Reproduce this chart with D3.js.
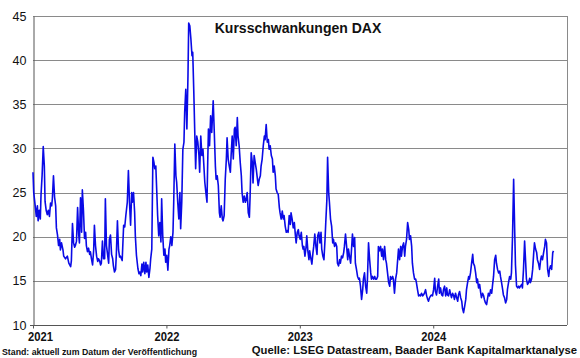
<!DOCTYPE html>
<html>
<head>
<meta charset="utf-8">
<script src="https://cdn.jsdelivr.net/npm/d3@7"></script>
<style>
  html, body { margin: 0; padding: 0; background: #fff; }
  svg { display: block; font-family: "Liberation Sans", Arial, sans-serif; }
</style>
</head>
<body>
<svg id="chart" width="580" height="358"></svg>
<script>
// ---- data ----
const title = "Kursschwankungen DAX";
const yTicks = [10, 15, 20, 25, 30, 35, 40, 45];
const xTickLabels = ["2021", "2022", "2023", "2024"];
const footLeft = "Stand: aktuell zum Datum der Veröffentlichung";
const footRight = "Quelle: LSEG Datastream, Baader Bank Kapitalmarktanalyse";

const vol2021 = [["2021-01-01",27.3],["2021-01-03",25],["2021-01-07",23.5],["2021-01-10",22.3],["2021-01-13",23.5],["2021-01-15",21.8],["2021-01-18",23],["2021-01-21",22],["2021-01-23",24.8],["2021-01-26",27],["2021-01-29",30.2],["2021-02-01",28],["2021-02-03",24],["2021-02-06",23],["2021-02-09",22.5],["2021-02-12",23],["2021-02-15",22.3],["2021-02-18",23.8],["2021-02-21",23.5],["2021-02-23",24.3],["2021-02-26",26.9],["2021-03-01",24.5],["2021-03-04",23.5],["2021-03-06",21],["2021-03-09",20.2],["2021-03-12",19],["2021-03-15",19.7],["2021-03-17",18.5],["2021-03-20",19.3],["2021-03-24",18.5],["2021-03-26",17.8],["2021-03-31",17.5],["2021-04-05",17.8],["2021-04-09",17],["2021-04-14",16.6],["2021-04-16",17.3],["2021-04-19",21.5],["2021-04-22",19.3],["2021-04-25",18.8],["2021-04-27",19],["2021-04-30",19.5],["2021-05-03",23.3],["2021-05-06",20.3],["2021-05-08",19.3],["2021-05-11",24.4],["2021-05-14",20.5],["2021-05-16",25.3],["2021-05-19",23],["2021-05-22",19.8],["2021-05-25",20.5],["2021-05-27",19],["2021-05-30",18.3],["2021-06-02",18.7],["2021-06-05",18],["2021-06-07",18.3],["2021-06-10",17.5],["2021-06-13",16.8],["2021-06-16",18.5],["2021-06-18",21.3],["2021-06-21",19],["2021-06-24",17.8],["2021-06-27",17.2],["2021-06-29",17.5],["2021-07-02",17.3],["2021-07-05",16.8],["2021-07-07",17],["2021-07-10",19.5],["2021-07-13",17.5],["2021-07-16",17.5],["2021-07-18",24.3],["2021-07-21",19],["2021-07-24",18],["2021-07-27",17],["2021-07-29",19.7],["2021-08-01",20.2],["2021-08-04",18],["2021-08-07",17.5],["2021-08-09",16.7],["2021-08-12",16],["2021-08-15",16.3],["2021-08-17",18],["2021-08-20",21.8],["2021-08-23",18.5],["2021-08-26",17.7],["2021-08-28",17.8],["2021-09-02",17.3],["2021-09-06",21.3],["2021-09-09",21.1],["2021-09-12",22.4],["2021-09-16",23.9],["2021-09-19",27.5],["2021-09-22",23.9],["2021-09-25",21.3],["2021-09-28",25],["2021-09-30",23.9],["2021-10-03",25],["2021-10-06",22.8],["2021-10-08",20.1],["2021-10-11",17.9],["2021-10-15",16.4],["2021-10-18",15.8],["2021-10-20",16],["2021-10-23",15.6],["2021-10-26",16.9],["2021-10-28",16],["2021-10-31",17.1],["2021-11-03",15.8],["2021-11-06",17.1],["2021-11-08",16],["2021-11-11",16.8],["2021-11-14",15.4],["2021-11-17",16.4],["2021-11-19",17.5],["2021-11-22",18.6],["2021-11-25",29],["2021-11-28",28.4],["2021-11-30",27.7],["2021-12-03",28],["2021-12-06",24.7],["2021-12-08",22.4],["2021-12-11",20.1],["2021-12-14",21.6],["2021-12-17",19.4],["2021-12-19",24.3],["2021-12-22",20.1],["2021-12-25",17.9],["2021-12-28",18.6],["2021-12-30",17.1]];

const vol2022 = [["2022-01-02",17.9],["2022-01-05",16.2],["2022-01-08",18.6],["2022-01-10",19],["2022-01-13",20],["2022-01-16",19],["2022-01-19",20.5],["2022-01-21",23.9],["2022-01-24",30.5],["2022-01-27",26.9],["2022-01-29",26.2],["2022-02-01",23.9],["2022-02-04",22],["2022-02-07",25],["2022-02-09",20.9],["2022-02-12",23.9],["2022-02-15",29.9],["2022-02-18",30.7],["2022-02-20",34.1],["2022-02-23",36.7],["2022-02-26",32.2],["2022-03-01",38.2],["2022-03-03",44.2],["2022-03-06",43.9],["2022-03-09",42.4],["2022-03-12",40.5],["2022-03-14",40.9],["2022-03-17",36.3],["2022-03-20",31.1],["2022-03-22",27.7],["2022-03-25",31.4],["2022-03-28",30.7],["2022-03-31",29.2],["2022-04-02",27.3],["2022-04-05",31.4],["2022-04-08",29.2],["2022-04-11",29.9],["2022-04-13",28.4],["2022-04-16",26.2],["2022-04-19",25],["2022-04-22",23.9],["2022-04-24",28.4],["2022-04-26",32.2],["2022-04-29",30.3],["2022-05-02",33.7],["2022-05-05",31.8],["2022-05-09",35.4],["2022-05-12",31.8],["2022-05-15",28],["2022-05-17",26.5],["2022-05-20",26.9],["2022-05-23",25.8],["2022-05-26",22.7],["2022-05-28",22.2],["2022-05-31",23.5],["2022-06-03",22],["2022-06-05",21.8],["2022-06-08",22.4],["2022-06-11",26.5],["2022-06-14",28.8],["2022-06-16",31.2],["2022-06-19",28.8],["2022-06-22",28],["2022-06-25",27.3],["2022-06-27",29.2],["2022-06-30",31.4],["2022-07-03",28.8],["2022-07-06",32.2],["2022-07-08",32.4],["2022-07-11",30.3],["2022-07-14",33.5],["2022-07-16",31.4],["2022-07-19",30.3],["2022-07-22",28.4],["2022-07-25",26.9],["2022-07-27",25],["2022-07-30",23.9],["2022-08-02",24.6],["2022-08-05",23.9],["2022-08-07",24.2],["2022-08-10",25],["2022-08-13",22.7],["2022-08-16",22.2],["2022-08-18",24.6],["2022-08-21",29.5],["2022-08-24",28.4],["2022-08-26",26.1],["2022-08-29",29.2],["2022-09-01",28.4],["2022-09-04",27.6],["2022-09-06",26.9],["2022-09-09",25.8],["2022-09-12",26.5],["2022-09-15",26.9],["2022-09-17",28],["2022-09-20",28.8],["2022-09-23",30.3],["2022-09-26",31.4],["2022-09-28",31],["2022-10-01",32.7],["2022-10-04",30.7],["2022-10-07",31],["2022-10-09",29.9],["2022-10-12",30.3],["2022-10-15",29.2],["2022-10-18",28.8],["2022-10-20",27.3],["2022-10-23",28],["2022-10-26",26.9],["2022-10-28",25.4],["2022-10-31",25],["2022-11-03",24.8],["2022-11-06",23.3],["2022-11-08",22.7],["2022-11-11",22],["2022-11-14",22.9],["2022-11-17",22],["2022-11-19",22.4],["2022-11-22",21.2],["2022-11-25",20.5],["2022-11-28",20.7],["2022-11-30",20.5],["2022-12-03",22.4],["2022-12-06",21.4],["2022-12-08",22.7],["2022-12-11",22],["2022-12-14",21],["2022-12-17",21.6],["2022-12-20",20.1],["2022-12-22",19.3],["2022-12-25",20.5],["2022-12-28",20.8],["2022-12-30",20.1]];

const vol2023 = [["2023-01-02",19.7],["2023-01-05",20.5],["2023-01-08",19],["2023-01-10",18.6],["2023-01-12",18.9],["2023-01-15",17.8],["2023-01-18",18.8],["2023-01-20",20.1],["2023-01-23",18.4],["2023-01-26",17.4],["2023-01-28",18.4],["2023-01-31",17.6],["2023-02-03",16.9],["2023-02-06",18.2],["2023-02-08",18.9],["2023-02-11",20.3],["2023-02-14",18.9],["2023-02-17",18],["2023-02-19",20.1],["2023-02-22",20.5],["2023-02-25",19.3],["2023-02-28",20.5],["2023-03-02",18.6],["2023-03-05",17.8],["2023-03-08",17.4],["2023-03-11",19.7],["2023-03-13",21.6],["2023-03-16",24.2],["2023-03-18",29],["2023-03-21",25],["2023-03-23",23.9],["2023-03-26",22],["2023-03-29",21.2],["2023-04-01",19.3],["2023-04-03",19.7],["2023-04-06",18.9],["2023-04-09",19.3],["2023-04-12",18.9],["2023-04-14",17],["2023-04-17",16.7],["2023-04-20",17.4],["2023-04-22",17],["2023-04-25",17.8],["2023-04-28",17.6],["2023-05-01",18.2],["2023-05-03",18.9],["2023-05-06",20.3],["2023-05-09",18.9],["2023-05-12",17.4],["2023-05-14",18.6],["2023-05-17",17.8],["2023-05-20",17],["2023-05-23",18.9],["2023-05-25",20.3],["2023-05-28",18.9],["2023-05-31",19.9],["2023-06-02",17],["2023-06-05",16.3],["2023-06-08",15.5],["2023-06-11",15.2],["2023-06-13",15.3],["2023-06-16",14.4],["2023-06-19",12.9],["2023-06-22",14],["2023-06-24",15.2],["2023-06-27",15.9],["2023-06-30",14.4],["2023-07-03",13.6],["2023-07-05",15.2],["2023-07-08",19.3],["2023-07-11",17.4],["2023-07-14",15.9],["2023-07-16",15.2],["2023-07-19",15.5],["2023-07-22",15.2],["2023-07-25",15.5],["2023-07-27",15.2],["2023-07-30",15.2],["2023-08-02",15.5],["2023-08-04",18.9],["2023-08-07",18.4],["2023-08-10",18.9],["2023-08-13",17.8],["2023-08-15",18.6],["2023-08-18",17.4],["2023-08-21",18.9],["2023-08-24",17.4],["2023-08-26",17],["2023-08-29",15.9],["2023-09-01",14.8],["2023-09-04",14.4],["2023-09-06",15.5],["2023-09-09",15.2],["2023-09-12",15.5],["2023-09-14",15.2],["2023-09-17",13.6],["2023-09-20",15.2],["2023-09-23",15.9],["2023-09-25",17],["2023-09-28",18.6],["2023-10-01",17.4],["2023-10-04",18.9],["2023-10-06",17.8],["2023-10-09",18.9],["2023-10-12",19.3],["2023-10-15",17.8],["2023-10-17",18.9],["2023-10-20",19.7],["2023-10-23",21.6],["2023-10-26",20.8],["2023-10-28",19.7],["2023-10-31",20.1],["2023-11-03",18.9],["2023-11-05",17],["2023-11-08",15.9],["2023-11-11",15.2],["2023-11-14",15.2],["2023-11-16",14.8],["2023-11-19",14],["2023-11-22",13.3],["2023-11-25",13.4],["2023-11-27",13.3],["2023-11-30",13.6],["2023-12-03",13.3],["2023-12-05",13.4],["2023-12-08",13.6],["2023-12-11",14],["2023-12-14",13.3],["2023-12-17",12.9],["2023-12-19",12.7],["2023-12-22",13.1],["2023-12-25",13.3],["2023-12-27",13.4],["2023-12-30",13.3]];

const vol2024 = [["2024-01-02",14],["2024-01-05",15.3],["2024-01-07",13.8],["2024-01-10",13.4],["2024-01-13",14.4],["2024-01-16",15.2],["2024-01-18",13.6],["2024-01-21",14.2],["2024-01-24",13.4],["2024-01-27",13.3],["2024-01-29",14],["2024-02-01",14.4],["2024-02-04",13.3],["2024-02-07",14.2],["2024-02-09",13.4],["2024-02-12",13.3],["2024-02-15",14],["2024-02-17",13.6],["2024-02-20",13.1],["2024-02-23",13.6],["2024-02-26",13.3],["2024-02-28",12.9],["2024-03-02",13.6],["2024-03-05",13.1],["2024-03-08",12.7],["2024-03-10",13.4],["2024-03-13",13.8],["2024-03-16",13.1],["2024-03-19",12.7],["2024-03-21",11.9],["2024-03-24",11.4],["2024-03-27",12.1],["2024-03-30",12.9],["2024-04-01",14],["2024-04-04",14.8],["2024-04-07",15.5],["2024-04-09",15.2],["2024-04-12",15.9],["2024-04-15",17],["2024-04-18",18],["2024-04-20",17],["2024-04-23",16.7],["2024-04-26",15.9],["2024-04-29",14.8],["2024-05-01",15.2],["2024-05-04",14.2],["2024-05-07",14.6],["2024-05-10",13.6],["2024-05-12",13.1],["2024-05-15",13.6],["2024-05-18",13.3],["2024-05-20",12.9],["2024-05-23",12.5],["2024-05-26",12.3],["2024-05-29",13.1],["2024-05-31",13.6],["2024-06-03",13.3],["2024-06-06",14],["2024-06-09",13.6],["2024-06-11",14.4],["2024-06-14",15.5],["2024-06-17",17.4],["2024-06-20",17.9],["2024-06-22",17],["2024-06-25",16.3],["2024-06-28",15.9],["2024-07-01",16.1],["2024-07-03",15.5],["2024-07-06",14.8],["2024-07-09",14],["2024-07-11",13.4],["2024-07-14",13.1],["2024-07-17",12.5],["2024-07-20",12.9],["2024-07-22",14],["2024-07-25",14.8],["2024-07-28",15.5],["2024-07-31",15.2],["2024-08-02",15.9],["2024-08-05",20.1],["2024-08-08",26.5],["2024-08-11",20.5],["2024-08-13",16.8],["2024-08-16",14.4],["2024-08-19",14.2],["2024-08-22",14.4],["2024-08-24",14.2],["2024-08-27",14.4],["2024-08-30",14.6],["2024-09-01",14.2],["2024-09-04",16.3],["2024-09-07",19.5],["2024-09-10",17],["2024-09-12",15.2],["2024-09-15",14.6],["2024-09-18",14.8],["2024-09-21",15.3],["2024-09-23",14.8],["2024-09-26",15.2],["2024-09-29",16.3],["2024-10-02",18.2],["2024-10-04",19.3],["2024-10-07",18.6],["2024-10-10",18.2],["2024-10-12",17.4],["2024-10-15",17],["2024-10-18",16.3],["2024-10-21",17.4],["2024-10-23",17.8],["2024-10-26",17.4],["2024-10-29",18.2],["2024-11-01",18.9],["2024-11-03",19.7],["2024-11-06",19.3],["2024-11-09",16.3],["2024-11-12",15.5],["2024-11-14",16.3],["2024-11-17",16.7],["2024-11-20",16.3],["2024-11-23",18.2],["2024-11-25",18.4]];

// ---- drawing ----
const parse = d3.timeParse("%Y-%m-%d");
const series = [].concat(vol2021, vol2022, vol2023, vol2024).map(d => ({ date: parse(d[0]), value: d[1] }));

const svg = d3.select("#chart");
svg.append("rect").attr("width", 580).attr("height", 358).attr("fill", "#fff");

const x = d3.scaleTime()
  .domain([parse("2021-01-01"), parse("2025-01-01")])
  .range([33, 567]);
const y = d3.scaleLinear().domain([10, 45]).range([325, 16]);

// grid lines
svg.append("g").selectAll("line").data(yTicks.filter(t => t > 10)).join("line")
  .attr("x1", x.range()[0]).attr("x2", x.range()[1])
  .attr("y1", d => Math.round(y(d)) + 0.5).attr("y2", d => Math.round(y(d)) + 0.5)
  .attr("stroke", "#8a8a8a").attr("stroke-width", 1);

// right border
svg.append("line")
  .attr("x1", x.range()[1] + 0.5).attr("x2", x.range()[1] + 0.5)
  .attr("y1", y(45)).attr("y2", y(10))
  .attr("stroke", "#8a8a8a");

// y axis
const yAxis = d3.axisLeft(y).tickValues(yTicks).tickSize(0).tickPadding(7).tickFormat(d3.format("d"));
const gy = svg.append("g").attr("transform", `translate(${x.range()[0] + 0.5},0)`).call(yAxis);
gy.select(".domain").attr("stroke", "#555");
gy.selectAll("text").attr("font-size", 12.5).attr("fill", "#111").attr("font-family", "Liberation Sans, Arial, sans-serif");

// x axis
const xTickDates = xTickLabels.map(s => parse(s + "-01-01"));
const xAxis = d3.axisBottom(x).tickValues(xTickDates).tickSize(3).tickPadding(3)
  .tickFormat((d, i) => xTickLabels[i]);
const gx = svg.append("g").attr("transform", `translate(0,${Math.round(y(10)) + 0.5})`).call(xAxis);
gx.select(".domain").attr("stroke", "#555").attr("d", `M${x.range()[0] - 3},0H${x.range()[1]}`);
gx.selectAll(".tick line").attr("stroke", "#555");
gx.selectAll("text")
  .attr("font-size", 13).attr("font-weight", "bold").attr("fill", "#111")
  .attr("font-family", "Liberation Sans, Arial, sans-serif")
  .attr("textLength", 25).attr("lengthAdjust", "spacingAndGlyphs")
  .attr("dx", (d, i) => i === 0 ? 7 : 0);

// line
const line = d3.line().x(d => x(d.date)).y(d => y(d.value));
svg.append("path").datum(series)
  .attr("d", line)
  .attr("fill", "none")
  .attr("stroke", "#0a0ae6")
  .attr("stroke-width", 1.6)
  .attr("stroke-linejoin", "round");

// title
svg.append("text").attr("x", 298).attr("y", 33).attr("text-anchor", "middle")
  .attr("font-size", 14).attr("font-weight", "bold").attr("fill", "#111").text(title);

// footers
svg.append("text").attr("x", 2).attr("y", 355)
  .attr("font-size", 9).attr("font-weight", "bold").attr("fill", "#111")
  .attr("textLength", 195).attr("lengthAdjust", "spacingAndGlyphs").text(footLeft);
svg.append("text").attr("x", 577).attr("y", 354).attr("text-anchor", "end")
  .attr("font-size", 11.3).attr("font-weight", "bold").attr("fill", "#111")
  .text(footRight);
</script>
</body>
</html>
